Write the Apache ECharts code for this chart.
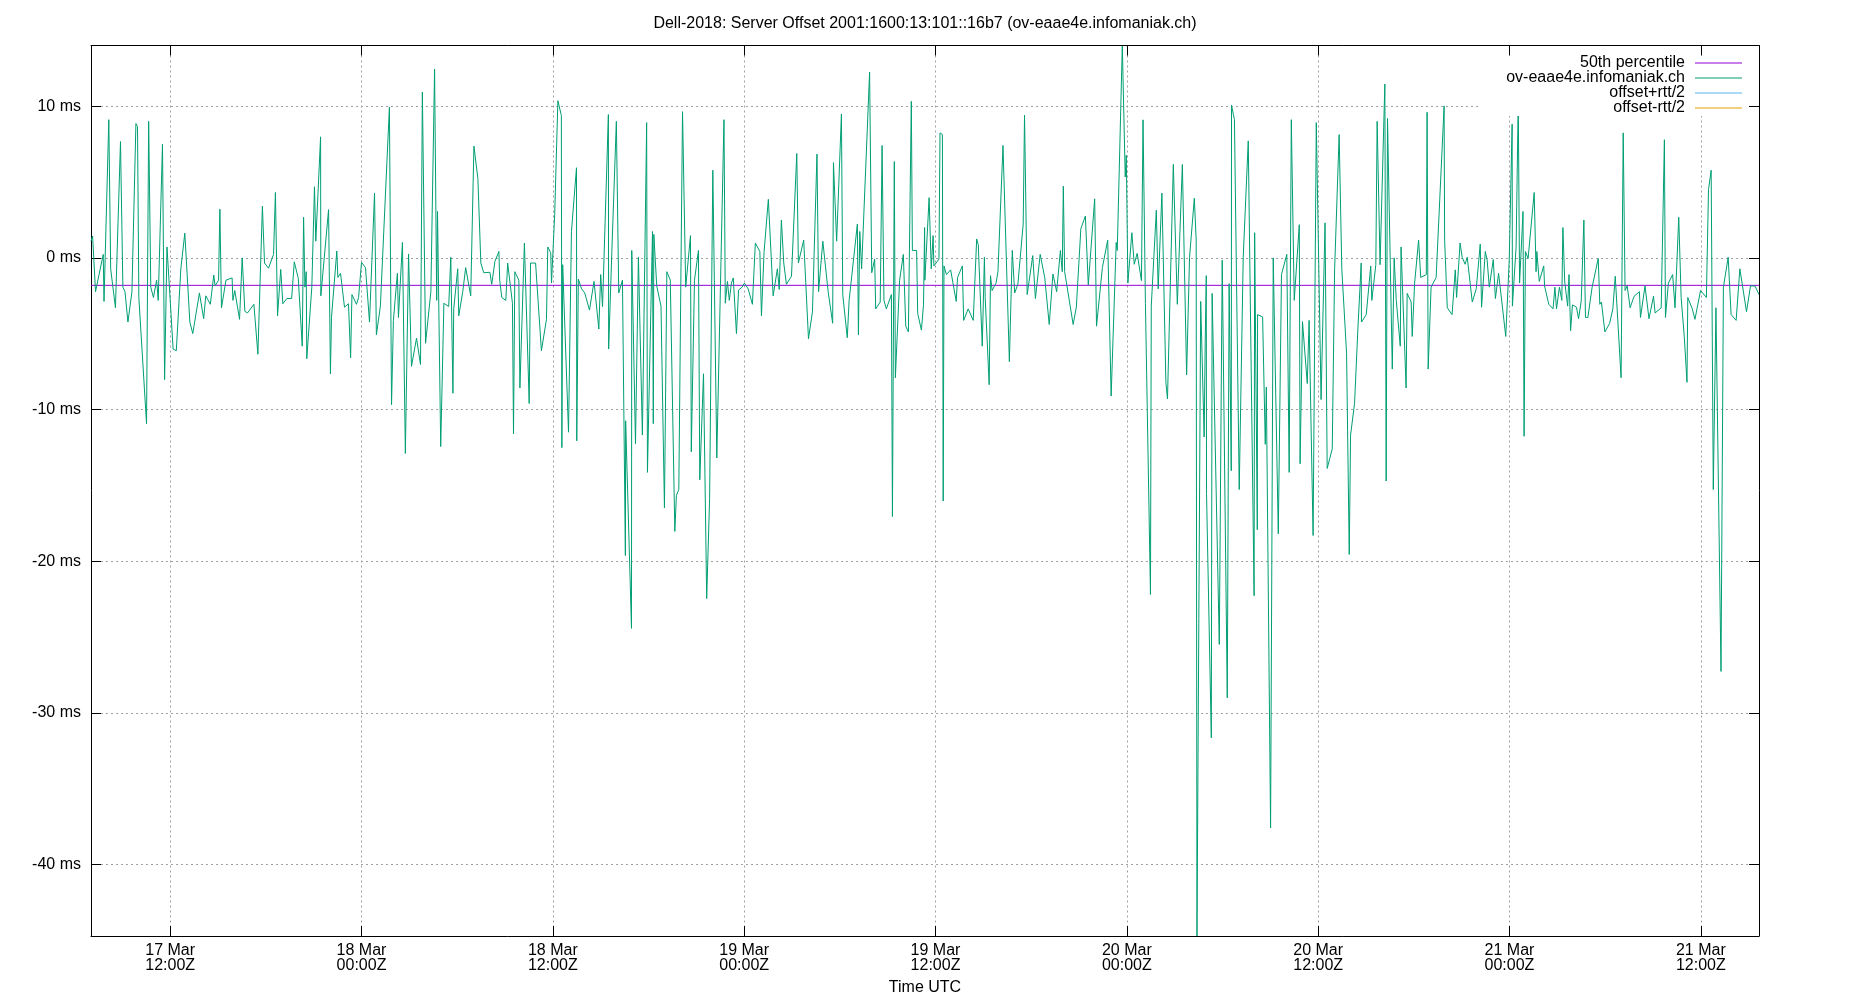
<!DOCTYPE html>
<html><head><meta charset="utf-8">
<script src="https://cdn.jsdelivr.net/npm/echarts@6/dist/echarts.min.js"></script>
<style>html,body{margin:0;padding:0;background:#fff}#c{width:1850px;height:1000px}</style>
</head><body><div id="c"></div>
<script>
const titleText = 'Dell-2018: Server Offset 2001:1600:13:101::16b7 (ov-eaae4e.infomaniak.ch)';
const xAxisName = 'Time UTC';
const seriesNames = ['50th percentile', 'ov-eaae4e.infomaniak.ch', 'offset+rtt/2', 'offset-rtt/2'];
const monthNames = ['Jan','Feb','Mar','Apr','May','Jun','Jul','Aug','Sep','Oct','Nov','Dec'];
const baseDateUTC = Date.UTC(2018, 2, 17); // 17 Mar 00:00Z
// sample times, minutes after 17 Mar 00:00Z
const sampleMinutes = [
422,428,439,468,471,489,496,514,533,542,550,561,576,591,597,602,631,639,647,657,669,675,691,699,708,731,743,760,775,794,805,830,846,854,871,884,889,902,907,913,930,953,956,963,981,991,1001,1011,1035,1050,1067,1075,1090,1109,1116,1124,1136,1144,1159,1177,1187,1202,
1217,1222,1227,1232,1234,1253,1263,1268,1286,1287,1316,1323,1327,1347,1351,1361,1376,1391,1399,1404,1421,1429,1440,1455,1470,1489,1496,1511,1545,1553,1560,1575,1579,1594,1605,1617,1628,1647,1662,1669,1681,1701,1715,1723,1726,1738,1750,1768,1776,1784,1787,1802,1806,1821,1832,1851,1863,1878,1889,1900,1923,1930,1942,1957,1960,1968,1983,1990,
2008,2012,2017,2032,2036,2053,2071,2076,2095,2117,2136,2141,2152,2155,2167,2179,2192,2194,2197,2219,2230,2249,2250,2256,2268,2280,2298,2315,2333,2340,2347,2369,2370,2382,2399,2408,2422,2433,2434,2456,2457,2471,2482,2497,2513,2516,2535,2538,2540,2551,2567,2580,2589,2602,2619,2625,2634,2648,2660,2678,2681,2693,2708,2713,2727,2739,2750,2762,2777,
2804,2809,2817,2824,2832,2839,2851,2859,2872,2881,2895,2911,2922,2939,2945,2955,2971,2989,3005,3012,3020,3029,3039,3058,3078,3084,3104,3122,3137,3154,3160,3176,3196,3213,3216,3223,3228,3246,3251,3268,3275,3306,3310,3315,3322,3352,3360,3371,3375,3392,3399,3406,3415,3434,3438,3445,3449,3465,3479,3488,3498,3509,3513,3529,3533,3547,3555,3559,3560,3576,3584,3591,
3594,3613,3617,3626,3629,3632,3641,3657,3678,3683,3701,3706,3713,3723,3742,3755,3761,3776,3784,3787,3802,3807,3813,3828,3835,3854,3858,3878,3889,3898,3910,3930,3935,3945,3966,3976,3994,4011,4028,4042,4056,4070,4077,4081,4086,4118,4130,4147,4164,4175,4199,4206,4228,4248,4261,4280,4284,4303,4314,4318,4324,4339,4348,4359,4375,
4381,4390,4409,4412,4431,4438,4452,4467,4473,4495,4510,4529,4545,4556,4574,4581,4584,4598,4611,4615,4619,4620,4638,4641,4668,4679,4698,4705,4713,4714,4725,4743,4758,4777,4799,4801,4811,4812,4831,4841,4845,4861,4871,4890,4902,4922,4931,4939,4950,4969,4972,4981,4999,5006,5021,5033,5051,5066,5074,5093,5102,5119,5129,5147,5157,
5162,5177,5189,5202,5203,5221,5238,5242,5257,5262,5273,5291,5296,5301,5319,5326,5334,5349,5352,5371,5375,5390,5394,5403,5418,5426,5447,5450,5454,5465,5484,5514,5516,5526,5544,5556,5561,5574,5582,5593,5601,5620,5635,5650,5655,5669,5676,5684,5699,5707,5719,5746,5759,5770,5771,5785,5793,5798,5811,5815,5820,5830,5853,5860,5863,5872,5889,5892,5908,5924,5931,5937,5948,5957,
5961,5968,5979,5984,5990,5997,6012,6020,6030,6040,6046,6055,6071,6094,6100,6106,6119,6137,6149,6158,6180,6188,6195,6203,6214,6229,6249,6253,6270,6285,6302,6308,6331,6343,6347,6358,6374,6383,6397,6406,6418,6428,6431,6448,6458,6479,6501,6509,6519,6527,6537,6556,6565,6583,6594,6613,6627,6652,6667,6684,6699
];
// server offset, ms
const offsetMs = [
1.1,1.44,-2.23,0.23,-2.87,9.11,-0.72,-3.29,7.67,-1.93,-2.23,-4.23,-2.23,8.85,8.66,-2.61,-10.93,9.0,-1.93,-2.61,-1.47,-2.8,7.49,-8.02,0.72,-6.01,-6.12,-0.72,1.63,-4.23,-4.99,-2.31,-4.01,-2.5,-3.06,-1.13,-1.85,-1.47,3.21,-3.29,-1.47,-1.32,-2.8,-2.15,-4.05,0,-3.52,-3.63,-3.06,-6.35,3.4,-0.34,-0.68,0.23,4.31,-3.82,-0.76,-3.02,-2.68,-2.68,-0.26,-1.35,
-5.82,2.68,-1.93,-0.91,-6.65,-1.93,4.69,1.1,7.98,-2.5,3.18,-7.64,-3.93,0.45,-1.29,-1.02,-3.25,-3.02,-6.58,-2.42,-3.06,-2.61,-0.3,-0.64,-4.23,4.27,-5.07,-3.18,9.94,-9.68,-4.12,-1.02,-3.93,1.02,-12.89,0.26,-7.15,-5.29,-7.03,10.93,-5.63,-2.23,12.44,-2.8,3.06,-12.44,-2.99,-3.21,0.04,-8.92,-3.36,-0.72,-3.82,-2.23,-0.64,-2.5,7.37,5.22,-0.34,-0.98,-0.95,-1.74,-0.23,0.42,-1.47,-2.61,-2.8,-0.34,
-2.99,-11.61,-0.91,-1.47,-8.58,0.98,-9.6,-0.34,-0.34,-6.12,-4.05,0.72,0.34,-1.66,2.87,10.36,9.38,-12.51,-0.45,-11.49,1.74,5.94,-12.06,-1.4,-2.04,-2.31,-3.44,-1.55,-4.69,-1.1,-3.21,9.45,-6.01,0.42,9.0,-2.31,-1.47,-19.62,-10.74,-24.42,0.49,-12.25,0.04,-11.68,8.92,-14.14,1.74,-10.93,1.55,-1.85,-3.18,-16.48,-0.91,-1.47,-18.03,-15.65,-15.27,9.64,-1.93,1.47,-12.78,-1.47,0.49,-14.63,-7.64,-22.46,-15.84,5.78,-13.19,
9.11,-2.99,-1.55,-2.8,-1.66,-1.32,-4.99,-2.12,-1.93,-1.66,-2.04,-3.06,0.98,0.42,-3.82,0.42,3.86,-2.5,-0.72,-2.08,2.5,-0.34,-1.74,-1.21,6.88,-0.34,1.17,-5.33,-3.55,6.84,-2.23,1.1,-2.23,-4.31,6.28,6.35,1.1,9.49,-2.42,-5.26,-2.8,2.23,-5.07,1.74,-0.72,12.25,-0.98,-0.08,-3.36,-2.91,7.41,-2.8,-3.36,-2.42,-17.05,6.35,-7.9,-1.47,0.23,-4.5,-4.88,10.32,0.49,0.49,-3.67,-4.76,-3.06,2.0,-1.47,3.97,-0.72,1.47,
-0.53,-0.08,8.24,8.13,-16.03,-0.53,-1.1,-0.79,-2.87,-1.29,-0.53,-4.12,-4.05,-3.36,-4.12,1.25,0.87,-5.82,0.04,-2.61,-8.36,-1.17,-2.15,-1.66,-0.91,7.41,7.49,-6.84,0.49,-2.31,-1.74,2.23,9.41,-2.42,0.15,-2.68,0.23,-1.29,-4.39,-1.06,-2.23,0.49,-0.91,4.73,-0.91,-4.39,-3.25,1.93,2.76,-1.78,3.89,-4.5,-0.64,1.17,-9.11,1.02,0.49,14.0,5.33,6.77,-1.66,1.66,-0.42,0.3,-1.5,
9.1,-3.0,-22.19,-3.18,3.14,-2.04,4.27,-8.2,-9.3,6.16,-3.06,6.16,-7.71,0.04,3.93,1.17,-44.7,-2.87,-11.8,-5.52,-1.17,-15.54,-31.64,-2.34,-25.48,-0.15,-29.0,-1.7,-14.03,10.06,9.11,-15.27,0.04,7.71,-22.27,1.66,-17.92,-3.74,-3.89,-12.29,-8.51,-37.58,0,-18.19,-1.1,0.23,-14.14,9.11,-2.8,2.19,-13.57,-4.2,-8.28,-4.12,-18.3,8.92,-9.34,2.31,-13.88,-12.59,-0.72,8.13,-0.72,-6.31,-19.55,
-11.68,-9.6,-4.88,-0.34,-4.23,-3.74,-0.53,-2.8,-0.45,9.0,-0.45,11.46,-14.71,9.19,-7.33,0,-2.8,-5.82,0.72,-8.58,-2.34,-2.91,-5.18,-1.66,1.17,-1.29,-1.1,9.6,-7.33,-1.93,-1.29,10.02,1.17,-3.29,-3.74,-0.79,-2.61,0.98,0.04,-0.42,0.04,-2.91,-2.04,0.91,-3.25,0.42,-0.15,-1.93,-0.11,-2.68,-1.02,-5.18,-0.19,8.81,-3.18,0.72,10.32,-1.66,3.06,-11.76,0.42,-0.04,4.31,-0.91,0.42,-1.55,-0.53,-1.85,-3.06,-3.36,-1.93,-3.36,-1.93,-2.8,
2.0,-1.59,-3.18,-1.1,-4.8,-3.1,-3.25,-4.01,-2.84,2.5,-3.93,-3.93,-1.93,-0.04,-3.06,-2.91,-4.88,-4.31,-3.36,-1.21,-7.9,8.24,-2.15,-1.85,-3.29,-2.53,-2.23,-3.93,-1.85,-4.01,-2.53,-3.63,-3.29,7.79,-3.93,-1.66,-1.1,-3.29,2.68,-2.61,-5.26,-8.2,-2.61,-3.36,-4.05,-2.15,-2.61,4.5,5.78,-15.27,-3.29,-27.26,-1.93,0.04,-3.74,-4.12,-0.72,-3.55,-1.85,-1.85,-2.42
];
const medianMs = -1.81;
const yMin = -44.7, yMax = 14.0;
const yTickValues = [-40, -30, -20, -10, 0, 10];
const xTickMinutes = [720, 1440, 2160, 2880, 3600, 4320, 5040, 5760, 6480];

const toTs = m => baseDateUTC + m * 60000;
const pts = sampleMinutes.map((m, i) => [toTs(m), offsetMs[i]]);
const xMin = toTs(sampleMinutes[0]);
const xMax = toTs(sampleMinutes[sampleMinutes.length - 1]);
const xTicks = xTickMinutes.map(toTs);
const pad = n => (n < 10 ? '0' : '') + n;
const fmtX = v => {
  const d = new Date(v);
  return d.getUTCDate() + ' ' + monthNames[d.getUTCMonth()] + '\n' + pad(d.getUTCHours()) + ':' + pad(d.getUTCMinutes()) + 'Z';
};
const FONT = 'Liberation Sans';
const black = '#000';
const gridCol = '#a0a0a0';

const chart = echarts.init(document.getElementById('c'), null, {renderer: 'canvas'});
chart.setOption({
  animation: false,
  backgroundColor: '#fff',
  title: [
    {text: titleText, left: 'center', top: 15.5, padding: 0,
     textStyle: {fontSize: 16, fontWeight: 'normal', color: black, fontFamily: FONT, lineHeight: 16}},
    {text: xAxisName, left: 'center', top: 980, padding: 0,
     textStyle: {fontSize: 16, fontWeight: 'normal', color: black, fontFamily: FONT, lineHeight: 16}}
  ],
  legend: {
    data: seriesNames, orient: 'vertical', right: 97, top: 54, align: 'right',
    itemWidth: 47, itemHeight: 1, itemGap: -1, icon: 'rect',
    backgroundColor: '#fff', padding: [1, 11, 0, 27],
    textStyle: {fontSize: 16, lineHeight: 15, color: black, fontFamily: FONT, padding: [0, 5, 0, 0]},
    selectedMode: false
  },
  grid: {left: 91, right: 91, top: 45.5, bottom: 64, show: false},
  xAxis: [
    {type: 'value', min: xMin, max: xMax, position: 'bottom',
     axisLine: {show: true, onZero: false, lineStyle: {color: black, width: 1}},
     axisTick: {show: true, inside: true, length: 10, customValues: xTicks, lineStyle: {color: black}},
     axisLabel: {show: true, customValues: xTicks, formatter: fmtX, margin: 7, fontSize: 16, lineHeight: 15, color: black, fontFamily: FONT},
     splitLine: {show: true, lineStyle: {color: gridCol, type: [2, 3], width: 1}}},
    {type: 'value', min: xMin, max: xMax, position: 'top', z: 10,
     axisLine: {show: true, onZero: false, lineStyle: {color: black, width: 1}},
     axisTick: {show: true, inside: true, length: 10, customValues: xTicks, lineStyle: {color: black}},
     axisLabel: {show: false}, splitLine: {show: false}}
  ],
  yAxis: [
    {type: 'value', min: yMin, max: yMax, position: 'left',
     axisLine: {show: true, onZero: false, lineStyle: {color: black, width: 1}},
     axisTick: {show: true, inside: true, length: 10, customValues: yTickValues, lineStyle: {color: black}},
     axisLabel: {show: true, customValues: yTickValues, formatter: v => v + ' ms', margin: 10, fontSize: 16, color: black, fontFamily: FONT},
     splitLine: {show: true, lineStyle: {color: gridCol, type: [2, 3], width: 1}}},
    {type: 'value', min: yMin, max: yMax, position: 'right', z: 10,
     axisLine: {show: true, onZero: false, lineStyle: {color: black, width: 1}},
     axisTick: {show: true, inside: true, length: 10, customValues: yTickValues, lineStyle: {color: black}},
     axisLabel: {show: false}, splitLine: {show: false}}
  ],
  series: [
    {name: seriesNames[0], type: 'line', xAxisIndex: 0, yAxisIndex: 0, symbol: 'none', z: 2,
     data: [[xMin, medianMs], [xMax, medianMs]],
     itemStyle: {color: '#9400d3'}, lineStyle: {color: '#9400d3', width: 1}},
    {name: seriesNames[1], type: 'line', xAxisIndex: 0, yAxisIndex: 0, symbol: 'none', z: 3,
     data: pts, itemStyle: {color: '#009e73'}, lineStyle: {color: '#009e73', width: 1}},
    {name: seriesNames[2], type: 'line', symbol: 'none', data: [],
     itemStyle: {color: '#56b4e9'}, lineStyle: {color: '#56b4e9', width: 1}},
    {name: seriesNames[3], type: 'line', symbol: 'none', data: [],
     itemStyle: {color: '#e69f00'}, lineStyle: {color: '#e69f00', width: 1}}
  ]
});
</script></body></html>
